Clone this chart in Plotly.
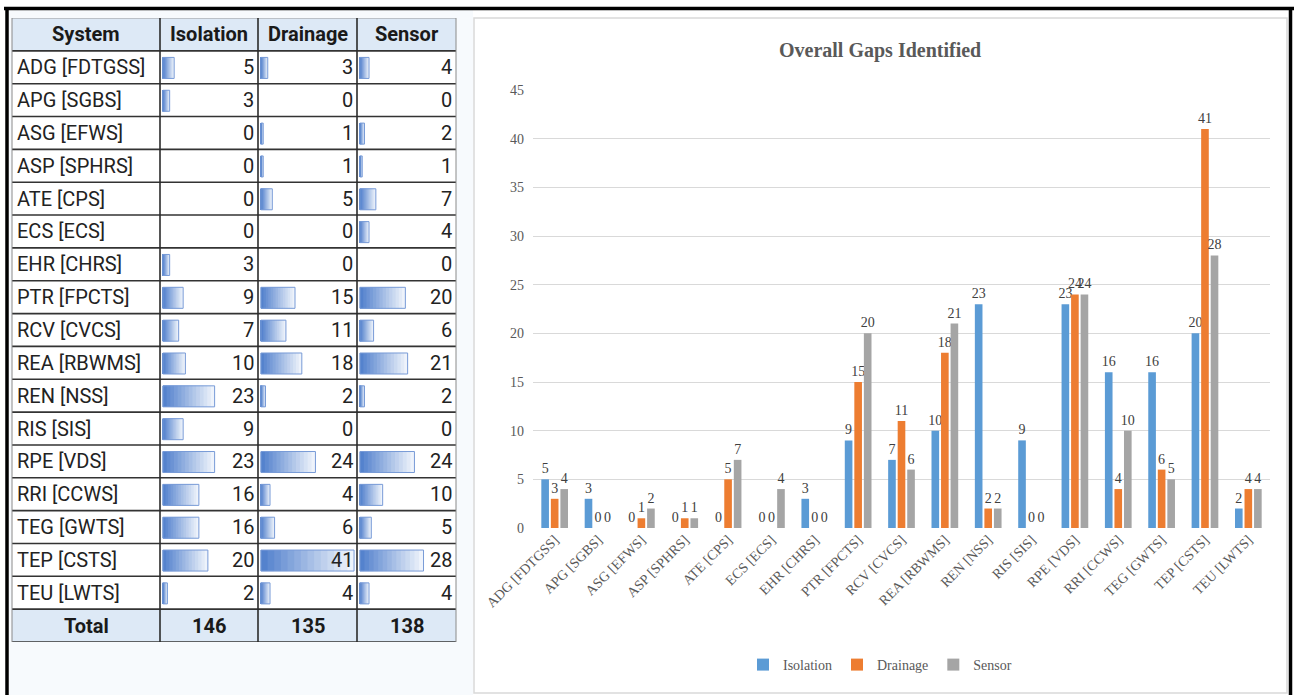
import plotly.graph_objects as go

# ---- data -------------------------------------------------------------
systems = ["ADG [FDTGSS]", "APG [SGBS]", "ASG [EFWS]", "ASP [SPHRS]", "ATE [CPS]",
           "ECS [ECS]", "EHR [CHRS]", "PTR [FPCTS]", "RCV [CVCS]", "REA [RBWMS]",
           "REN [NSS]", "RIS [SIS]", "RPE [VDS]", "RRI [CCWS]", "TEG [GWTS]",
           "TEP [CSTS]", "TEU [LWTS]"]
isolation = [5, 3, 0, 0, 0, 0, 3, 9, 7, 10, 23, 9, 23, 16, 16, 20, 2]
drainage = [3, 0, 1, 1, 5, 0, 0, 15, 11, 18, 2, 0, 24, 4, 6, 41, 4]
sensor = [4, 0, 2, 1, 7, 4, 0, 20, 6, 21, 2, 0, 24, 10, 5, 28, 4]
series_names = ["Isolation", "Drainage", "Sensor"]
header_label = "System"
total_label = "Total"
chart_title = "Overall Gaps Identified"

# ---- styling ----------------------------------------------------------
W, H = 1298, 695
series_colors = ["#5b9bd5", "#ed7d31", "#a5a5a5"]
TABLE_FONT = "Roboto, Liberation Sans, sans-serif"
SERIF = "Liberation Serif, Times New Roman, serif"
col_edges = [12, 160, 258, 357, 456]          # table column boundaries (px)
table_top, table_bottom = 18, 642
chart_left, chart_right, chart_top, chart_bottom = 533, 1270, 90, 528


def px_x(p):
    return p / W


def px_y(p):
    return 1 - p / H


series_values = [isolation, drainage, sensor]
rows = [header_label] + systems + [total_label]
n_rows = len(rows)

fig = go.Figure()

# ---- data bars inside the table (stepped gradient, light to dark) ----
K = 14
dark = (84, 130, 205)
light = (238, 243, 251)
for c, vals in enumerate(series_values):
    ax = c + 2
    for k in range(K):
        frac = 1 - k / K
        t = k / (K - 1)
        rgb = tuple(round(light[i] + (dark[i] - light[i]) * t) for i in range(3))
        fig.add_trace(go.Bar(
            orientation="h", y=systems, x=[v * frac for v in vals],
            marker=dict(color="rgb(%d,%d,%d)" % rgb, line=dict(width=0)),
            width=0.64, offset=-0.30,
            xaxis="x%d" % ax, yaxis="y%d" % ax,
            showlegend=False, hoverinfo="skip"))
    fig.add_trace(go.Bar(
        orientation="h", y=systems, x=[v if v > 0 else None for v in vals],
        marker=dict(color="rgba(0,0,0,0)", line=dict(color="rgb(120,155,215)", width=1)),
        width=0.64, offset=-0.30,
        xaxis="x%d" % ax, yaxis="y%d" % ax,
        showlegend=False, hoverinfo="skip"))

# ---- clustered column chart ------------------------------------------
for name, vals, color in zip(series_names, series_values, series_colors):
    fig.add_trace(go.Bar(
        x=systems, y=vals, name=name, marker=dict(color=color, line=dict(width=0)),
        text=[str(v) for v in vals], textposition="outside", constraintext="none",
        cliponaxis=False,
        textfont=dict(family=SERIF, size=14, color="#404040"),
        xaxis="x5", yaxis="y5", hoverinfo="skip"))

# ---- axes -------------------------------------------------------------
layout_axes = {}
for n in range(1, 5):
    key = "" if n == 1 else str(n)
    layout_axes["xaxis" + key] = dict(
        domain=[px_x(col_edges[n - 1]), px_x(col_edges[n])],
        range=[0, 1] if n == 1 else [-1.3, 42.3],
        visible=False, fixedrange=True, anchor="y" + key)
    layout_axes["yaxis" + key] = dict(
        domain=[px_y(table_bottom), px_y(table_top)],
        type="category", categoryorder="array", categoryarray=rows,
        range=[n_rows - 0.5, -0.5], visible=False, fixedrange=True,
        anchor="x" + key)

layout_axes["xaxis5"] = dict(
    domain=[px_x(chart_left), px_x(chart_right)], anchor="y5",
    type="category", categoryorder="array", categoryarray=systems,
    tickangle=-45, showgrid=False, showline=False, ticks="", automargin=False,
    tickfont=dict(family=SERIF, size=14, color="#595959"))
layout_axes["yaxis5"] = dict(
    domain=[px_y(chart_bottom), px_y(chart_top)], anchor="x5",
    range=[0, 45], tickmode="linear", tick0=0, dtick=5,
    showgrid=True, gridcolor="#d9d9d9", gridwidth=1, zeroline=False,
    showline=False, ticks="", ticklabelstandoff=8, automargin=False,
    tickfont=dict(family=SERIF, size=14, color="#595959"))

# ---- shapes: panels, table cells and grid ----------------------------
shapes = []
# left panel tint and chart panel
shapes.append(dict(type="rect", xref="paper", yref="paper", layer="below",
                   x0=px_x(9), x1=px_x(473), y0=px_y(695), y1=px_y(10),
                   fillcolor="#f7fafd", line=dict(width=0)))
shapes.append(dict(type="rect", xref="paper", yref="paper", layer="below",
                   x0=px_x(474), x1=px_x(1287), y0=px_y(693), y1=px_y(18),
                   fillcolor="white", line=dict(color="#d9d9d9", width=1.5)))
# cell fills
tx0, tx1 = px_x(col_edges[0]), px_x(col_edges[-1])
shapes.append(dict(type="rect", xref="paper", yref="y", layer="below",
                   x0=tx0, x1=tx1, y0=0.5, y1=n_rows - 1.5,
                   fillcolor="white", line=dict(width=0)))
for r in (0, n_rows - 1):
    shapes.append(dict(type="rect", xref="paper", yref="y", layer="below",
                       x0=tx0, x1=tx1, y0=r - 0.5, y1=r + 0.5,
                       fillcolor="#dde9f6", line=dict(width=0)))
# horizontal rules
for i in range(n_rows + 1):
    top = i == 0
    shapes.append(dict(type="line", xref="paper", yref="y",
                       x0=tx0, x1=tx1, y0=i - 0.5, y1=i - 0.5,
                       line=dict(color="#9a9a9a" if top else "#333333",
                                 width=1 if top else 1.6)))
# vertical rules
for j, xe in enumerate(col_edges):
    outer = j in (0, len(col_edges) - 1)
    shapes.append(dict(type="line", xref="paper", yref="paper",
                       x0=px_x(xe), x1=px_x(xe), y0=px_y(table_bottom), y1=px_y(table_top),
                       line=dict(color="#8a8a8a" if outer else "#2b2b2b",
                                 width=1 if outer else 1.6)))
# outer black frame
frame = dict(color="black", width=3.5)
shapes.append(dict(type="line", xref="paper", yref="paper",
                   x0=px_x(4), x1=px_x(1294), y0=px_y(8.5), y1=px_y(8.5), line=frame))
shapes.append(dict(type="line", xref="paper", yref="paper",
                   x0=px_x(7), x1=px_x(7), y0=px_y(695), y1=px_y(7), line=frame))
shapes.append(dict(type="line", xref="paper", yref="paper",
                   x0=px_x(1290.5), x1=px_x(1290.5), y0=px_y(695), y1=px_y(7), line=frame))

# ---- annotations: table text and chart title --------------------------
ann = []
hdr_font = dict(family=TABLE_FONT, size=20, color="#1a1a1a")
cell_font = dict(family=TABLE_FONT, size=20, color="#222222")
headers = [header_label] + series_names
for n, h in enumerate(headers, start=1):
    key = "" if n == 1 else str(n)
    ann.append(dict(text="<b>%s</b>" % h, x=0.5, xref="x%s domain" % key,
                    y=0, yref="y" + key, showarrow=False, xanchor="center",
                    yanchor="middle", font=hdr_font))
for i, s in enumerate(systems, start=1):
    ann.append(dict(text=s, x=0.02, xref="x domain", y=i, yref="y",
                    showarrow=False, xanchor="left", yanchor="middle", font=cell_font))
    for c, vals in enumerate(series_values):
        key = str(c + 2)
        ann.append(dict(text=str(vals[i - 1]), x=0.975, xref="x%s domain" % key,
                        y=i, yref="y" + key, showarrow=False, xanchor="right",
                        yanchor="middle", font=cell_font))
ann.append(dict(text="<b>%s</b>" % total_label, x=0.5, xref="x domain",
                y=n_rows - 1, yref="y", showarrow=False, xanchor="center",
                yanchor="middle", font=hdr_font))
for c, vals in enumerate(series_values):
    key = str(c + 2)
    ann.append(dict(text="<b>%d</b>" % sum(vals), x=0.5, xref="x%s domain" % key,
                    y=n_rows - 1, yref="y" + key, showarrow=False, xanchor="center",
                    yanchor="middle", font=hdr_font))
ann.append(dict(text="<b>%s</b>" % chart_title, x=px_x(880), y=px_y(50),
                xref="paper", yref="paper", showarrow=False,
                xanchor="center", yanchor="middle",
                font=dict(family=SERIF, size=20, color="#595959")))

fig.update_layout(
    width=W, height=H, autosize=False,
    margin=dict(l=0, r=0, t=0, b=0, pad=0, autoexpand=False),
    paper_bgcolor="white", plot_bgcolor="rgba(0,0,0,0)",
    barmode="group", bargap=0.34, bargroupgap=0.2,
    showlegend=True,
    legend=dict(orientation="h", x=px_x(880), y=px_y(665), xanchor="center",
                yanchor="middle", bgcolor="rgba(0,0,0,0)", itemwidth=30,
                font=dict(family=SERIF, size=14, color="#595959"),
                traceorder="normal"),
    shapes=shapes, annotations=ann,
    **layout_axes)

fig.write_html("out.html")
